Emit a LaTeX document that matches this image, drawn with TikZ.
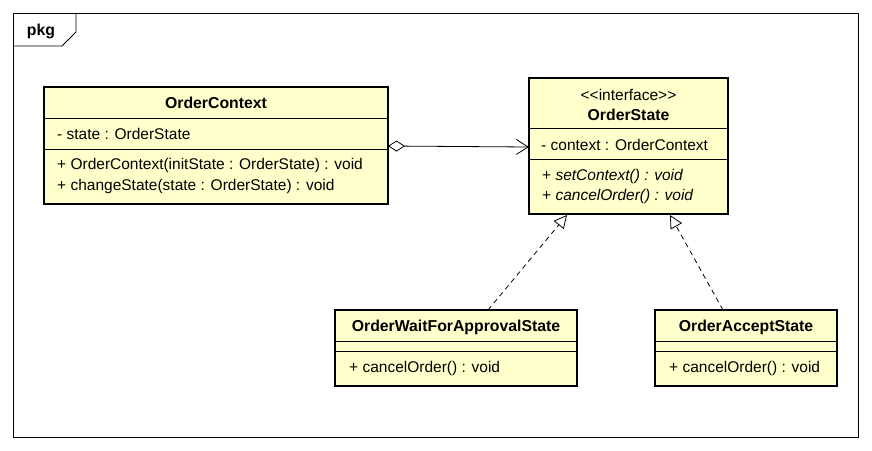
\documentclass[tikz,border=0pt]{standalone}
\usepackage{fontspec}
\setmainfont{Liberation Sans}
\usetikzlibrary{arrows.meta}
\definecolor{umlfill}{HTML}{FFFFCC}
\tikzset{
  umlbox/.style={draw=black, line width=2.6pt, fill=umlfill, rectangle, inner sep=0pt},
  divider/.style={draw=black, line width=0.8pt},
  txt/.style={inner sep=0pt, font=\fontsize{15.5}{17}\selectfont},
  ttl/.style={inner sep=0pt, font=\fontsize{15.8}{17}\selectfont\bfseries},
  conn/.style={draw=black, line width=0.8pt},
}
\begin{document}
\begin{tikzpicture}[x=1pt,y=-1pt]
\useasboundingbox (0,0) rectangle (872,450);
% package frame
\draw[line width=0.8pt] (13,13) rectangle (858,437);
\draw[line width=0.8pt] (13,46) -- (62,46) -- (76,32) -- (76,13);
\node[ttl] (pkg) at (41,31) {pkg};

% OrderContext
\node[umlbox, minimum width=344pt, minimum height=117pt] (ctx) at (216,145.5) {};
\draw[divider] (44,118) -- (388,118);
\draw[divider] (44,149) -- (388,149);
\node[ttl] (ctxname) at (216,103) {OrderContext};
\node[txt, anchor=west] (ctxattr) at (57,134) {- state : OrderState};
\node[txt, anchor=west] (ctxm1) at (57,165) {+ OrderContext(initState : OrderState) : void};
\node[txt, anchor=west] (ctxm2) at (57,186) {+ changeState(state : OrderState) : void};

% OrderState
\node[umlbox, minimum width=199pt, minimum height=136pt] (st) at (628.5,146) {};
\draw[divider] (529,128) -- (728,128);
\draw[divider] (529,159) -- (728,159);
\node[txt] (stster) at (628.5,95) {<\kern0pt<interface>\kern0pt>};
\node[ttl] (stname) at (628.5,115) {OrderState};
\node[txt, anchor=west] (stattr) at (541,145) {- context : OrderContext};
\node[txt, anchor=west] (stm1) at (542,176) {+ \textit{setContext() : void}};
\node[txt, anchor=west] (stm2) at (542,196) {+ \textit{cancelOrder() : void}};

% OrderWaitForApprovalState
\node[umlbox, minimum width=242pt, minimum height=76pt] (wait) at (456,348) {};
\draw[divider] (335,341) -- (577,341);
\draw[divider] (335,351) -- (577,351);
\node[ttl] (waitname) at (456,327) {OrderWaitForApprovalState};
\node[txt, anchor=west] (waitm) at (349,368) {+ cancelOrder() : void};

% OrderAcceptState
\node[umlbox, minimum width=182pt, minimum height=76pt] (acc) at (746,348) {};
\draw[divider] (655,341) -- (837,341);
\draw[divider] (655,351) -- (837,351);
\node[ttl] (accname) at (746,327) {OrderAcceptState};
\node[txt, anchor=west] (accm) at (669,368) {+ cancelOrder() : void};

% connectors
\coordinate (aggS) at (388,146);
\coordinate (aggE) at (529,147);
\draw[conn, {Diamond[open,length=17pt,width=11pt,line width=0.8pt]}-{Straight Barb[length=12pt,width=15pt,line width=0.8pt]}] (aggS) -- (aggE);

\coordinate (w1) at (488,310);
\coordinate (w2) at (567,215);
\draw[conn, dashed, dash pattern=on 5pt off 4pt, -{Triangle[open,length=13pt,width=13pt,line width=0.8pt]}] (w1) -- (w2);

\coordinate (a1) at (723,310);
\coordinate (a2) at (670,215);
\draw[conn, dashed, dash pattern=on 5pt off 4pt, -{Triangle[open,length=13pt,width=13pt,line width=0.8pt]}] (a1) -- (a2);
\end{tikzpicture}
\end{document}
